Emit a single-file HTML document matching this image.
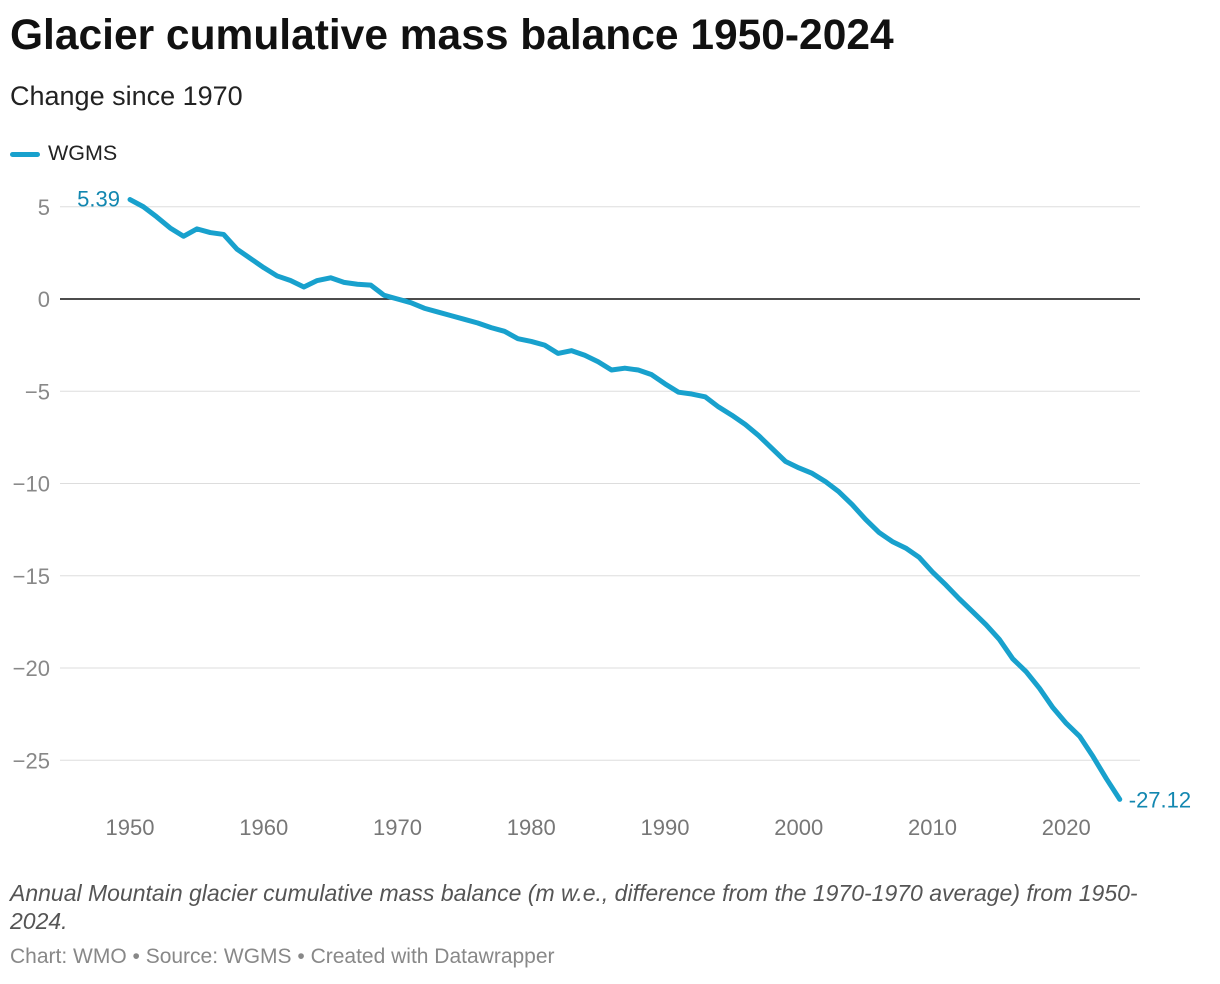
<!DOCTYPE html>
<html><head><meta charset="utf-8"><style>
body{margin:0;background:#fff;font-family:"Liberation Sans",sans-serif;width:1220px;height:984px;overflow:hidden;position:relative}
.t{position:absolute;left:10px;top:12px;font-size:42.5px;font-weight:bold;color:#111}
.s{position:absolute;left:10px;top:81px;font-size:27px;color:#222}
.lg{position:absolute;left:10px;top:141px;font-size:21.5px;color:#222}
.lg span{display:inline-block;width:30px;height:5px;background:#18a1cd;border-radius:3px;vertical-align:middle;margin-right:8px}
.n{position:absolute;left:10px;top:879px;font-size:23px;font-style:italic;color:#555;width:1170px;line-height:28px}
.c{position:absolute;left:10px;top:945px;font-size:21px;color:#888}
</style></head><body>
<div class="t">Glacier cumulative mass balance 1950-2024</div>
<div class="s">Change since 1970</div>
<div class="lg"><span></span>WGMS</div>
<svg width="1220" height="984" style="position:absolute;left:0;top:0" id="ch"></svg>
<div class="n">Annual Mountain glacier cumulative mass balance (m w.e., difference from the 1970-1970 average) from 1950-2024.</div>
<div class="c">Chart: WMO • Source: WGMS • Created with Datawrapper</div>
<script>
const years=[];for(let y=1950;y<=2024;y++)years.push(y);
const values=[5.39,5.0,4.45,3.85,3.4,3.8,3.6,3.5,2.7,2.2,1.7,1.25,1.0,0.65,1.0,1.15,0.9,0.8,0.75,0.2,0,-0.2,-0.5,-0.7,-0.9,-1.1,-1.3,-1.55,-1.75,-2.15,-2.3,-2.5,-2.95,-2.8,-3.05,-3.4,-3.85,-3.75,-3.85,-4.1,-4.6,-5.05,-5.15,-5.3,-5.85,-6.3,-6.8,-7.4,-8.1,-8.8,-9.15,-9.45,-9.9,-10.45,-11.15,-11.95,-12.65,-13.15,-13.5,-14.0,-14.8,-15.5,-16.25,-16.95,-17.65,-18.45,-19.5,-20.2,-21.1,-22.15,-23.0,-23.7,-24.8,-26.0,-27.12];
const yTicks=[5,0,-5,-10,-15,-20,-25];
const yTickLabels=["5","0","−5","−10","−15","−20","−25"];
const xTicks=[1950,1960,1970,1980,1990,2000,2010,2020];
const X=y=>130+(y-1950)*13.375;
const Y=v=>299-v*18.45;
const svg=document.getElementById('ch');const NS='http://www.w3.org/2000/svg';
function mk(t,a,txt){const e=document.createElementNS(NS,t);for(const k in a)e.setAttribute(k,a[k]);if(txt!=null)e.textContent=txt;svg.appendChild(e);return e;}
yTicks.forEach((v,i)=>{
 const l=mk('line',{x1:60,x2:1140,y1:Y(v),y2:Y(v),stroke:v===0?'#111':'#ddd','stroke-width':v===0?1.5:1});
 
 
 const t=mk('text',{x:50,y:Y(v)+8,'text-anchor':'end','font-size':22,fill:'#888'},yTickLabels[i]);
 
 
});
xTicks.forEach(y=>{
 const t=mk('text',{x:X(y),y:835,'text-anchor':'middle','font-size':22,fill:'#777'},String(y));
 
 
});
const p=mk('path',{d:values.map((v,i)=>(i?'L':'M')+X(years[i])+','+Y(v)).join(''),fill:'none',stroke:'#18a1cd','stroke-width':5,'stroke-linejoin':'round','stroke-linecap':'round'});


const n=values.length-1;
const a=mk('text',{x:X(years[0])-10,y:Y(values[0])+7,'text-anchor':'end','font-size':22,fill:'#1287b0'},values[0].toFixed(2));


const b=mk('text',{x:X(years[n])+9,y:Y(values[n])+8,'font-size':22,fill:'#1287b0'},values[n].toFixed(2));


</script>
</body></html>
